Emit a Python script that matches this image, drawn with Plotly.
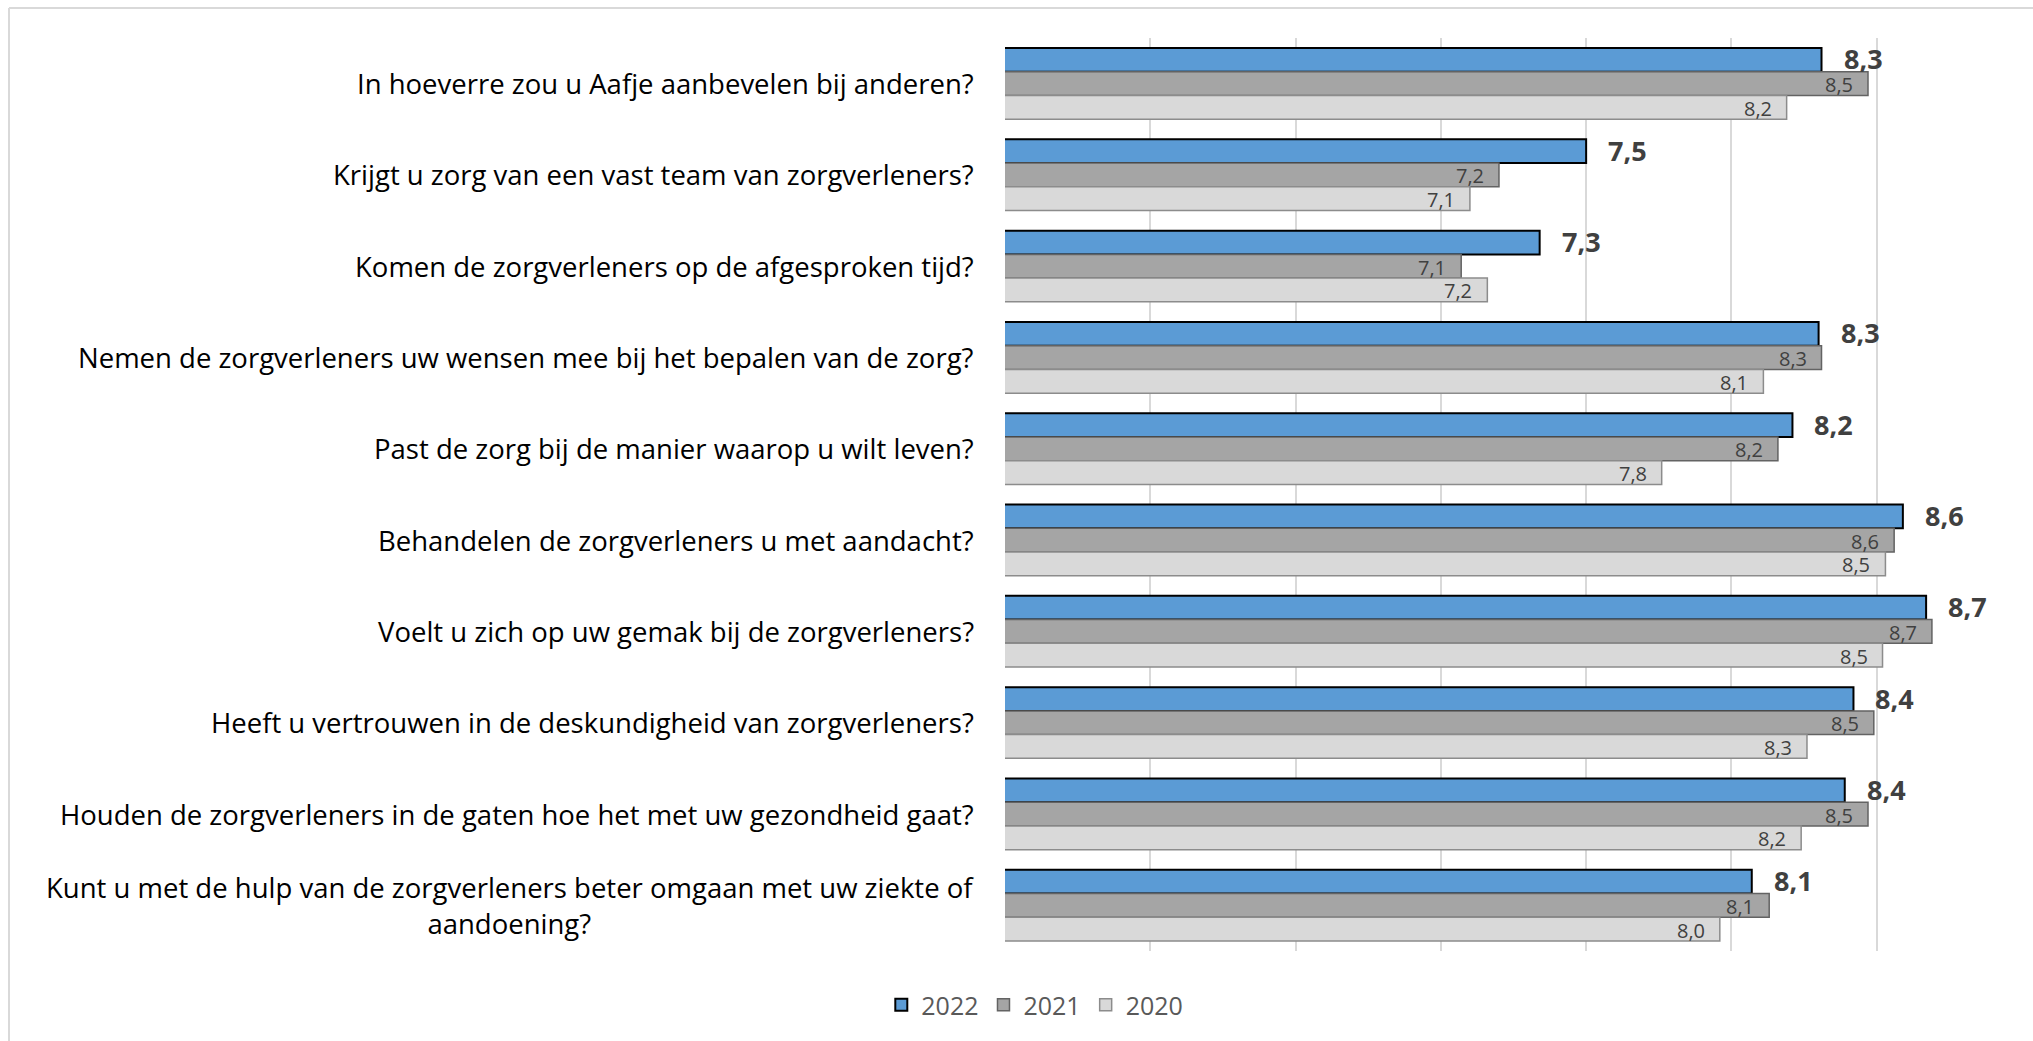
import plotly.graph_objects as go

categories = [
    "In hoeverre zou u Aafje aanbevelen bij anderen?",
    "Krijgt u zorg van een vast team van zorgverleners?",
    "Komen de zorgverleners op de afgesproken tijd?",
    "Nemen de zorgverleners uw wensen mee bij het bepalen van de zorg?",
    "Past de zorg bij de manier waarop u wilt leven?",
    "Behandelen de zorgverleners u met aandacht?",
    "Voelt u zich op uw gemak bij de zorgverleners?",
    "Heeft u vertrouwen in de deskundigheid van zorgverleners?",
    "Houden de zorgverleners in de gaten hoe het met uw gezondheid gaat?",
    "Kunt u met de hulp van de zorgverleners beter omgaan met uw ziekte of<br>aandoening?",
]
v2022 = [8.31, 7.50, 7.34, 8.30, 8.21, 8.59, 8.67, 8.42, 8.39, 8.07]
v2021 = [8.47, 7.20, 7.07, 8.31, 8.16, 8.56, 8.69, 8.49, 8.47, 8.13]
v2020 = [8.19, 7.10, 7.16, 8.11, 7.76, 8.53, 8.52, 8.26, 8.24, 7.96]
series_names = ["2022", "2021", "2020"]

FONT = "Open Sans"
W, H = 2033, 1041
ML, MR, MT, MB = 1005, 11, 38, 90
plot_h = H - MT - MB
band = plot_h / len(categories)
bargap = 0.22
bar_px = band * (1 - bargap) / 3

fig = go.Figure()
styles = [
    dict(color="#5B9BD5", line=dict(color="#000000", width=2)),
    dict(color="#A5A5A5", line=dict(color="#636363", width=1.5)),
    dict(color="#D9D9D9", line=dict(color="#8C8C8C", width=1.5)),
]
for name, vals, st in zip(series_names, [v2022, v2021, v2020], styles):
    fig.add_trace(go.Bar(
        y=categories, x=vals, name=name, orientation="h",
        marker=st,
    ))

def fmt(v):
    return f"{v:.1f}".replace(".", ",")

annotations = []
for i, cat in enumerate(categories):
    annotations.append(dict(
        x=v2022[i], y=cat, xref="x", yref="y", text=fmt(v2022[i]),
        showarrow=False, xanchor="left", yanchor="middle",
        xshift=20, yshift=bar_px + 1,
        font=dict(family=FONT, size=27, color="#404040", weight="bold"),
    ))
    annotations.append(dict(
        x=v2021[i], y=cat, xref="x", yref="y", text=fmt(v2021[i]),
        showarrow=False, xanchor="right", yanchor="middle",
        xshift=-14, yshift=-1, borderpad=0,
        font=dict(family=FONT, size=20, color="#404040"),
    ))
    annotations.append(dict(
        x=v2020[i], y=cat, xref="x", yref="y", text=fmt(v2020[i]),
        showarrow=False, xanchor="right", yanchor="middle",
        xshift=-14, yshift=-bar_px - 1, borderpad=0,
        font=dict(family=FONT, size=20, color="#404040"),
    ))
    annotations.append(dict(
        x=(976 - ML) / (W - ML - MR), y=cat, xref="paper", yref="y",
        text=cat, showarrow=False, xanchor="right", yanchor="middle",
        align="center",
        font=dict(family=FONT, size=27.5, color="#000000"),
    ))

pw = W - ML - MR
shapes = [
    dict(type="line", xref="paper", yref="paper",
         x0=(9 - ML) / pw, x1=1.2, y0=(H - MB - 8) / plot_h, y1=(H - MB - 8) / plot_h,
         line=dict(color="#D9D9D9", width=2)),
    dict(type="line", xref="paper", yref="paper",
         x0=(9 - ML) / pw, x1=(9 - ML) / pw, y0=-0.2, y1=(H - MB - 8) / plot_h,
         line=dict(color="#D9D9D9", width=2)),
]

fig.update_layout(
    width=W, height=H,
    margin=dict(l=ML, r=MR, t=MT, b=MB, pad=0),
    paper_bgcolor="white", plot_bgcolor="white",
    barmode="group", bargap=bargap, bargroupgap=0,
    font=dict(family=FONT, color="#404040"),
    xaxis=dict(range=[5.5, 9.0], dtick=0.5, tick0=5.5, showgrid=True,
               gridcolor="#D9D9D9", gridwidth=1.5, showticklabels=False,
               zeroline=False, showline=False, fixedrange=True),
    yaxis=dict(autorange="reversed", showticklabels=False, showgrid=False,
               zeroline=False, showline=False, type="category"),
    legend=dict(orientation="h", xref="container", yref="container",
                x=0.509, y=(H - 1005) / H, xanchor="center", yanchor="middle",
                font=dict(family=FONT, size=25, color="#595959"),
                itemwidth=30, traceorder="normal"),
    annotations=annotations,
    shapes=shapes,
)

fig.write_html("out.html")
